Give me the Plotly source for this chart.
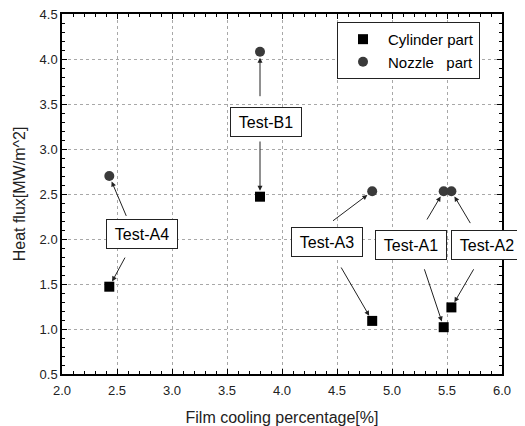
import plotly.graph_objects as go

tests = ["Test-A4", "Test-B1", "Test-A3", "Test-A1", "Test-A2"]
film_cooling = [2.43, 3.80, 4.82, 5.47, 5.54]
cylinder_flux = [1.47, 2.47, 1.09, 1.02, 1.24]
nozzle_flux = [2.70, 4.08, 2.53, 2.53, 2.53]

# label box centres (data coords) and arrow tails (up to nozzle, down to cylinder)
label_x = [2.73, 3.85, 4.41, 5.17, 5.86]
label_y = [2.06, 3.30, 1.97, 1.93, 1.93]
tail_up_x = [2.59, 3.80, 4.45, 5.31, 5.72]
tail_up_y = [2.24, 3.57, 2.19, 2.20, 2.16]
tail_dn_x = [2.58, 3.80, 4.53, 5.29, 5.75]
tail_dn_y = [1.81, 3.10, 1.70, 1.68, 1.68]

FONT = "Liberation Sans, Arial, sans-serif"

fig = go.Figure()
fig.add_trace(go.Scatter(x=film_cooling, y=cylinder_flux, mode="markers",
                         name="Cylinder part",
                         marker=dict(symbol="square", size=10, color="black")))
fig.add_trace(go.Scatter(x=film_cooling, y=nozzle_flux, mode="markers",
                         name="Nozzle\u00a0\u00a0\u00a0part",
                         marker=dict(symbol="circle", size=10, color="#3a3a3a")))

anns = []
for i, t in enumerate(tests):
    anns.append(dict(x=label_x[i], y=label_y[i], xref="x", yref="y", text=t,
                     showarrow=False, font=dict(size=16, color="black", family=FONT),
                     bgcolor="white", bordercolor="#222", borderwidth=1,
                     borderpad=5, width=60, height=18))
    anns.append(dict(x=film_cooling[i], y=nozzle_flux[i], xref="x", yref="y",
                     ax=tail_up_x[i], ay=tail_up_y[i], axref="x", ayref="y",
                     text="", showarrow=True, arrowhead=2, arrowsize=1,
                     arrowwidth=1, arrowcolor="#222", standoff=6))
    anns.append(dict(x=film_cooling[i], y=cylinder_flux[i], xref="x", yref="y",
                     ax=tail_dn_x[i], ay=tail_dn_y[i], axref="x", ayref="y",
                     text="", showarrow=True, arrowhead=2, arrowsize=1,
                     arrowwidth=1, arrowcolor="#222", standoff=6))

axis_common = dict(showline=True, linecolor="black", linewidth=1.5, mirror="allticks",
                   ticks="inside", ticklen=5, tickcolor="black", tickwidth=1,
                   showgrid=True, gridcolor="#a8a8a8", griddash="dot", gridwidth=1,
                   zeroline=False, tickformat=".1f", ticklabeloverflow="allow",
                   tickfont=dict(size=13, color="#222", family=FONT),
                   minor=dict(dtick=0.1, ticks="inside", ticklen=3, tickcolor="black",
                              showgrid=False))

fig.update_xaxes(range=[2.0, 6.0], dtick=0.5, ticklabelstandoff=4,
                 title=dict(text="Film cooling percentage[%]", standoff=18,
                            font=dict(size=16, color="#222", family=FONT)),
                 **axis_common)
fig.update_yaxes(range=[0.5, 4.5], dtick=0.5,
                 title=dict(text="Heat flux[MW/m^2]", standoff=10,
                            font=dict(size=16, color="#222", family=FONT)),
                 **axis_common)

fig.update_layout(
    width=517, height=418,
    margin=dict(l=54, r=23, t=6, b=52, autoexpand=False),
    paper_bgcolor="white", plot_bgcolor="white",
    showlegend=True,
    legend=dict(x=0.625, y=0.978, xanchor="left", yanchor="top",
                bordercolor="#222", borderwidth=1, bgcolor="white",
                font=dict(size=15, color="black", family=FONT),
                itemwidth=40, tracegroupgap=0),
    annotations=anns,
)

fig.write_html("out.html")
